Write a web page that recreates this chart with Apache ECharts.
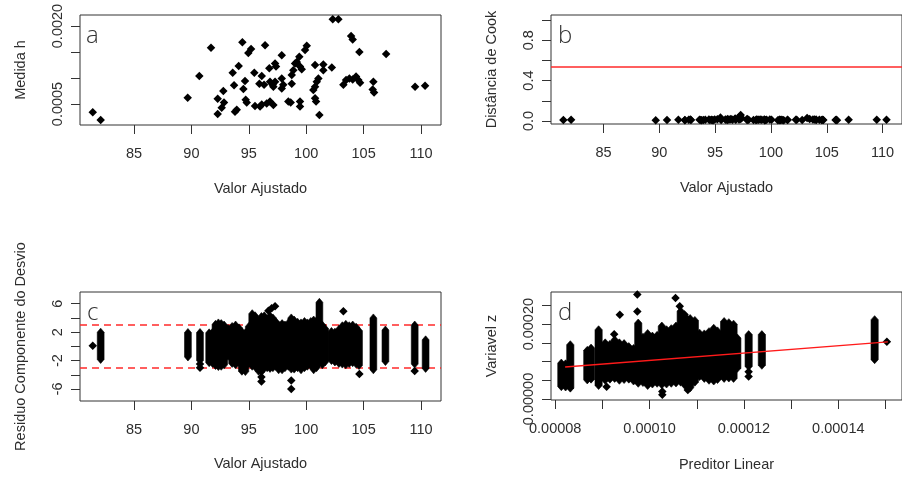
<!DOCTYPE html>
<html><head><meta charset="utf-8">
<script src="https://cdn.jsdelivr.net/npm/echarts@6/dist/echarts.min.js"></script>
<style>html,body{margin:0;padding:0;background:#fff}#chart{width:902px;height:479px}</style>
</head><body><div id="chart"></div>
<script>
// ---------- Panel a / b : one point per fitted value ----------
const fittedX = [81.41,82.10,89.68,90.69,91.71,92.29,92.29,92.64,92.78,92.84,93.60,93.72,93.80,93.95,94.12,94.44,94.53,94.67,94.73,94.82,94.96,95.20,95.48,95.54,95.92,95.98,96.13,96.13,96.33,96.42,96.56,96.79,96.85,96.85,97.08,97.14,97.14,97.29,97.37,97.29,97.87,97.87,98.00,97.87,98.44,98.65,98.74,98.74,98.88,99.03,99.18,99.40,99.46,99.61,99.90,100.05,99.46,99.46,100.77,101.49,101.49,102.23,101.06,100.92,100.77,100.62,100.77,100.86,101.15,102.31,102.80,103.91,104.05,104.63,106.96,103.24,103.47,103.76,104.05,104.34,104.54,104.69,105.85,105.79,105.91,109.48,110.35];
const leverageH = [0.00034,0.00019,0.00062,0.00104,0.00158,0.00060,0.00031,0.00043,0.00075,0.00053,0.00110,0.00086,0.00035,0.00039,0.00123,0.00169,0.00079,0.00094,0.00058,0.00053,0.00148,0.00156,0.00110,0.00046,0.00089,0.00045,0.00104,0.00049,0.00087,0.00163,0.00051,0.00119,0.00093,0.00055,0.00087,0.00083,0.00048,0.00128,0.00122,0.00093,0.00144,0.00099,0.00087,0.00080,0.00055,0.00053,0.00089,0.00106,0.00115,0.00128,0.00131,0.00141,0.00122,0.00117,0.00154,0.00162,0.00055,0.00045,0.00125,0.00126,0.00115,0.00120,0.00099,0.00093,0.00083,0.00077,0.00061,0.00055,0.00029,0.00213,0.00213,0.00181,0.00174,0.00150,0.00146,0.00087,0.00096,0.00099,0.00097,0.00103,0.00096,0.00091,0.00093,0.00078,0.00072,0.00083,0.00085];
const cookD = [0.010,0.012,0.008,0.010,0.012,0.010,0.008,0.012,0.015,0.010,0.012,0.010,0.008,0.010,0.012,0.015,0.010,0.012,0.010,0.008,0.015,0.018,0.035,0.010,0.015,0.012,0.020,0.010,0.015,0.020,0.012,0.025,0.020,0.012,0.030,0.035,0.015,0.060,0.030,0.020,0.020,0.015,0.012,0.010,0.010,0.010,0.012,0.015,0.012,0.015,0.012,0.015,0.010,0.012,0.015,0.012,0.010,0.008,0.012,0.012,0.010,0.012,0.010,0.012,0.010,0.008,0.010,0.010,0.008,0.012,0.010,0.015,0.012,0.012,0.012,0.030,0.020,0.015,0.012,0.012,0.010,0.010,0.012,0.010,0.008,0.012,0.012];
const cookCutoff = 0.544;

// ---------- Panel c : deviance residual columns ----------
const cColX    = [82.10,89.70,90.75,91.55,91.85,92.10,92.35,92.60,92.85,93.20,93.55,93.85,94.15,94.40,94.70,95.00,95.30,95.55,95.85,96.10,96.35,96.60,96.85,97.10,97.35,97.60,97.90,98.15,98.45,98.70,98.95,99.25,99.55,99.85,100.10,100.40,100.65,100.90,101.15,101.40,101.65,102.20,102.50,102.85,103.15,103.45,103.75,104.05,104.35,104.60,105.85,106.90,109.45,110.40];
const cColLow  = [-1.85,-1.5,-2.0,-2.3,-2.4,-2.7,-2.85,-2.8,-2.6,-1.4,-2.4,-2.6,-2.3,-3.5,-3.55,-2.4,-2.8,-2.9,-3.5,-3.6,-3.1,-3.0,-3.1,-3.0,-2.8,-3.3,-3.3,-3.0,-2.8,-3.2,-3.2,-3.0,-3.3,-3.0,-2.8,-2.7,-3.3,-3.0,-2.3,-2.6,-2.2,-2.0,-2.2,-2.4,-2.5,-2.6,-2.4,-2.3,-2.5,-2.7,-3.3,-2.14,-2.5,-3.1];
const cColHigh = [2.0,1.95,1.95,1.9,2.0,3.1,3.3,3.2,3.0,2.5,2.8,3.0,2.6,2.1,1.9,2.8,4.6,4.3,3.5,4.2,4.3,3.6,4.3,4.0,3.5,3.0,3.2,3.0,3.3,4.0,3.7,3.4,3.3,3.5,3.3,3.5,3.7,3.6,6.2,3.0,2.5,2.1,2.0,2.4,2.9,3.1,2.9,3.0,2.7,2.2,4.0,2.3,3.0,0.92];
const cPtX = [81.41,90.75,90.75,96.10,96.10,96.71,96.99,97.29,98.70,98.70,103.24,104.63,109.45];
const cPtY = [0.1,-2.5,-3.0,-4.3,-4.95,5.0,5.35,5.65,-4.8,-6.0,4.95,-3.88,-3.46];
const cBands = [3.1,-3.0];

// ---------- Panel d : working variable z vs linear predictor ----------
const dColX    = [8.13e-5,8.22e-5,8.32e-5,8.68e-5,8.76e-5,8.92e-5,9.06e-5,9.16e-5,9.26e-5,9.36e-5,9.46e-5,9.56e-5,9.66e-5,9.76e-5,9.86e-5,9.96e-5,10.06e-5,10.16e-5,10.26e-5,10.36e-5,10.46e-5,10.56e-5,10.66e-5,10.76e-5,10.86e-5,10.96e-5,11.06e-5,11.16e-5,11.26e-5,11.36e-5,11.44e-5,11.58e-5,11.68e-5,11.78e-5,11.86e-5,12.10e-5,12.38e-5,14.77e-5];
const dColLow  = [3.3e-5,3.2e-5,2.9e-5,5.1e-5,5.3e-5,3.6e-5,5.0e-5,5.3e-5,5.5e-5,5.0e-5,5.2e-5,5.3e-5,4.8e-5,4.2e-5,4.4e-5,3.6e-5,4.0e-5,4.2e-5,3.8e-5,4.0e-5,4.2e-5,4.3e-5,4.5e-5,3.5e-5,3.0e-5,4.5e-5,6.0e-5,5.5e-5,5.0e-5,4.8e-5,5.2e-5,5.5e-5,5.6e-5,5.5e-5,8.2e-5,8.7e-5,9.0e-5,10.5e-5];
const dColHigh = [9.6e-5,9.4e-5,14.5e-5,13.0e-5,13.6e-5,18.5e-5,15.0e-5,14.6e-5,15.8e-5,15.0e-5,14.8e-5,14.0e-5,13.5e-5,20.3e-5,16.5e-5,17.5e-5,16.8e-5,17.0e-5,19.5e-5,18.5e-5,18.8e-5,19.5e-5,23.5e-5,22.0e-5,21.5e-5,21.0e-5,17.6e-5,17.4e-5,18.0e-5,18.9e-5,18.2e-5,20.7e-5,20.4e-5,20.0e-5,16.3e-5,17.2e-5,17.2e-5,21.2e-5];
const dPtX = [9.09e-5,9.25e-5,9.37e-5,9.74e-5,9.74e-5,10.27e-5,10.27e-5,10.55e-5,10.64e-5,10.74e-5,10.81e-5,12.10e-5,12.10e-5,15.03e-5];
const dPtY = [3.3e-5,17.3e-5,22.5e-5,23.4e-5,27.9e-5,2.0e-5,1.1e-5,27.0e-5,24.8e-5,22.6e-5,2.4e-5,7.3e-5,6.0e-5,15.3e-5];
const dFitX = [8.21e-5,15.05e-5];
const dFitY = [8.55e-5,15.25e-5];

// ---------- ticks / labels ----------
const fittedTicks = [85,90,95,100,105,110];
const hTicks = [0.0005,0.0010,0.0015,0.0020];
const hLabels = [0.0005,0.0020];
const cookTicks = [0,0.2,0.4,0.6,0.8,1.0];
const cookLabels = [0,0.4,0.8];
const resTicks = [-6,-4,-2,0,2,4,6];
const resLabels = [-6,-2,2,6];
const etaTicks = [0.00008,0.00009,0.00010,0.00011,0.00012,0.00013,0.00014,0.00015];
const etaLabels = [0.00008,0.00010,0.00012,0.00014];
const zTicks = [0,0.00005,0.00010,0.00015,0.00020,0.00025];
const zLabels = [0,0.00020];

const FONT = '"Liberation Sans", Arial, sans-serif';
const TXT = '#2e2e2e';
const FS = 14.5;

function xAx(g, min, max, ticks, labels, dec, name, gap){
  return {type:'value', gridIndex:g, position:'bottom', min:min, max:max, name:name, nameLocation:'middle', nameGap:gap,
    nameTextStyle:{fontFamily:FONT, fontSize:FS, color:TXT},
    axisLine:{show:false, onZero:false}, splitLine:{show:false},
    axisTick:{show:true, length:9, lineStyle:{color:'#333'}, customValues:ticks},
    axisLabel:{margin:21, fontFamily:FONT, fontSize:FS, color:TXT, customValues:labels,
      formatter:function(v){return dec===0?String(Math.round(v)):Number(v).toFixed(dec);}}};
}
function yAx(g, min, max, ticks, labels, dec, name){
  return {type:'value', gridIndex:g, position:'left', min:min, max:max, name:name, nameLocation:'middle', nameGap:52,
    nameTextStyle:{fontFamily:FONT, fontSize:FS, color:TXT},
    axisLine:{show:false, onZero:false}, splitLine:{show:false},
    axisTick:{show:true, length:9, lineStyle:{color:'#333'}, customValues:ticks},
    axisLabel:{margin:15, rotate:90, fontFamily:FONT, fontSize:FS, color:TXT, customValues:labels,
      formatter:function(v){return dec===0?String(Math.round(v)):Number(v).toFixed(dec);}}};
}
function columns(xi, yi, xs, lo, hi, half){
  return {type:'custom', xAxisIndex:xi, yAxisIndex:yi, silent:true, clip:true, z:2,
    encode:{x:0, y:[1,2]},
    data: xs.map(function(x,i){return [x, lo[i], hi[i]];}),
    renderItem:function(params, api){
      const t = api.coord([api.value(0), api.value(2)]);
      const b = api.coord([api.value(0), api.value(1)]);
      const h = half, c = 4;
      return {type:'polygon', shape:{points:[[t[0],t[1]-c],[t[0]+h,t[1]],[b[0]+h,b[1]],[b[0],b[1]+c],[b[0]-h,b[1]],[t[0]-h,t[1]]]},
        style:{fill:'#000', stroke:'#000', lineWidth:0.6}};
    }};
}
function pts(xi, yi, xs, ys){
  return {type:'scatter', xAxisIndex:xi, yAxisIndex:yi, symbol:'diamond', symbolSize:8.5, silent:true, z:3,
    itemStyle:{color:'#000', opacity:1}, data: xs.map(function(x,i){return [x, ys[i]];})};
}

const grids = [
  {left:80, top:15, width:361, height:110},
  {left:551, top:15, width:361, height:109},
  {left:80, top:292, width:361, height:109},
  {left:551, top:292, width:361, height:108}
].map(function(g){return Object.assign({show:true, borderColor:'#333', borderWidth:1, backgroundColor:'transparent', containLabel:false}, g);});

const letterStyle = {fontFamily:'"Open Sans", "DejaVu Sans", sans-serif', fontWeight:300, fontSize:24, fill:'#333', verticalAlign:'middle'};

const option = {
  animation:false,
  backgroundColor:'#fff',
  grid: grids,
  xAxis:[
    xAx(0, 80.30, 111.74, fittedTicks, fittedTicks, 0, 'Valor Ajustado', 56),
    xAx(1, 80.30, 111.74, fittedTicks, fittedTicks, 0, 'Valor Ajustado', 56),
    xAx(2, 80.30, 111.74, fittedTicks, fittedTicks, 0, 'Valor Ajustado', 55),
    xAx(3, 7.911e-5, 15.35e-5, etaTicks, etaLabels, 5, 'Preditor Linear', 57)
  ],
  yAxis:[
    yAx(0, 0.000096, 0.002212, hTicks, hLabels, 4, 'Medida h'),
    yAx(1, -0.0297, 1.0495, cookTicks, cookLabels, 1, 'Distância de Cook'),
    yAx(2, -7.69, 7.65, resTicks, resLabels, 0, 'Residuo Componente do Desvio'),
    yAx(3, -0.27e-5, 28.59e-5, zTicks, zLabels, 5, 'Variavel z')
  ],
  graphic:[
    {type:'text', x:86, y:36, style:Object.assign({text:'a'}, letterStyle)},
    {type:'text', x:558, y:36, style:Object.assign({text:'b'}, letterStyle)},
    {type:'text', x:87, y:313, style:Object.assign({text:'c'}, letterStyle)},
    {type:'text', x:558, y:313, style:Object.assign({text:'d'}, letterStyle)}
  ],
  series:[
    pts(0, 0, fittedX, leverageH),
    Object.assign(pts(1, 1, fittedX, cookD), {
      markLine:{silent:true, symbol:'none', label:{show:false}, animation:false,
        lineStyle:{color:'#ff2a2a', width:1.5, type:'solid'}, data:[{yAxis:cookCutoff}]}}),
    Object.assign(columns(2, 2, cColX, cColLow, cColHigh, 3.4), {
      markLine:{silent:true, symbol:'none', label:{show:false}, animation:false, z:1,
        lineStyle:{color:'#ff2a2a', width:1.5, type:[7,5]}, data:cBands.map(function(v){return {yAxis:v};})}}),
    pts(2, 2, cPtX, cPtY),
    columns(3, 3, dColX, dColLow, dColHigh, 3.6),
    pts(3, 3, dPtX, dPtY),
    {type:'line', xAxisIndex:3, yAxisIndex:3, silent:true, symbol:'none', z:5,
      lineStyle:{color:'#ff1a1a', width:1.4}, data: dFitX.map(function(x,i){return [x, dFitY[i]];})}
  ]
};
const chart = echarts.init(document.getElementById('chart'), null, {renderer:'canvas'});
chart.setOption(option);
</script></body></html>
